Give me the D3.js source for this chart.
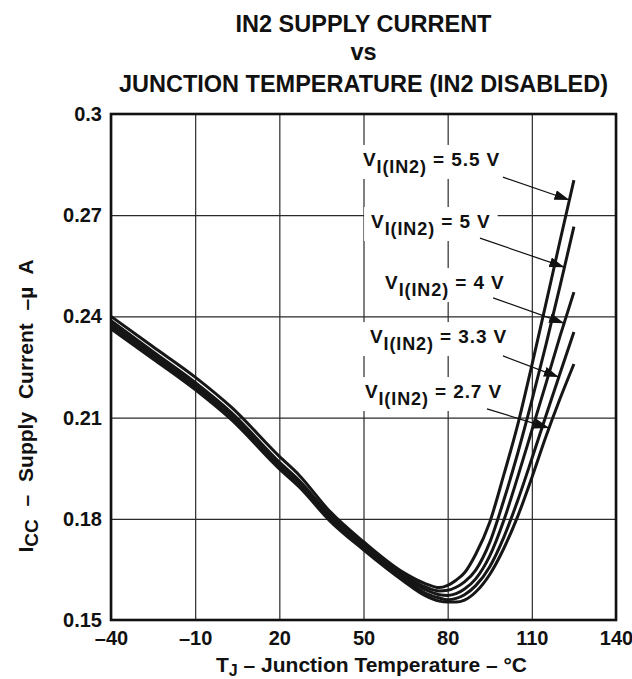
<!DOCTYPE html>
<html>
<head>
<meta charset="utf-8">
<script src="https://cdn.jsdelivr.net/npm/d3@7"></script>
<style>
  html, body { margin: 0; padding: 0; background: #fff; }
  svg { display: block; font-family: "Liberation Sans", Arial, Helvetica, sans-serif; font-weight: bold; }
  .axis .domain { display: none; }
  .axis line { stroke: #2a2a2a; stroke-width: 1.2; }
  .axis text { fill: #111; font-size: 20px; }
</style>
</head>
<body>
<svg id="chart" width="632" height="679"></svg>
<script>
// junction temperature samples, °C
const temps = [-40, -25, -10, 3, 20, 27, 38, 50, 64, 72, 77, 80, 83, 86, 90, 95, 100, 105, 110, 115, 120, 125];

// supply current, µA, one array per input voltage
const icc55 = [0.2400, 0.2310, 0.2220, 0.2130, 0.1985, 0.1930, 0.1822, 0.1732, 0.1642, 0.1608, 0.1596, 0.1603, 0.1618, 0.1640, 0.1695, 0.1790, 0.1930, 0.2080, 0.2255, 0.2437, 0.2622, 0.2804];
const icc5  = [0.2387, 0.2295, 0.2204, 0.2114, 0.1968, 0.1914, 0.1812, 0.1726, 0.1636, 0.1598, 0.1586, 0.1588, 0.1597, 0.1613, 0.1648, 0.1730, 0.1855, 0.1995, 0.2150, 0.2315, 0.2488, 0.2666];
const icc4  = [0.2379, 0.2288, 0.2197, 0.2107, 0.1961, 0.1907, 0.1806, 0.1720, 0.1630, 0.1590, 0.1575, 0.1573, 0.1578, 0.1592, 0.1622, 0.1690, 0.1795, 0.1925, 0.2062, 0.2200, 0.2340, 0.2472];
const icc33 = [0.2371, 0.2281, 0.2190, 0.2100, 0.1954, 0.1901, 0.1800, 0.1714, 0.1624, 0.1580, 0.1565, 0.1560, 0.1564, 0.1575, 0.1602, 0.1658, 0.1745, 0.1855, 0.1978, 0.2105, 0.2230, 0.2354];
const icc27 = [0.2363, 0.2274, 0.2183, 0.2093, 0.1948, 0.1895, 0.1794, 0.1708, 0.1617, 0.1572, 0.1556, 0.1553, 0.1553, 0.1559, 0.1583, 0.1635, 0.1712, 0.1808, 0.1922, 0.2043, 0.2155, 0.2259];

const voltages = ["5.5", "5", "4", "3.3", "2.7"];
const seriesValues = [icc55, icc5, icc4, icc33, icc27];

const xTicks = [-40, -10, 20, 50, 80, 110, 140];
const yTicks = [0.15, 0.18, 0.21, 0.24, 0.27, 0.3];

const titleLines = ["IN2 SUPPLY CURRENT", "vs", "JUNCTION TEMPERATURE (IN2 DISABLED)"];

// annotation anchors in data units (temp, current)
const labelAt   = [[49.8, 0.2846], [52.7, 0.2662], [57.7, 0.2481], [52.3, 0.2321], [50.5, 0.2158]];
const arrowFrom = [[99.7, 0.2813], [91.5, 0.2632], [96.2, 0.2455], [99.7, 0.2283], [94.0, 0.2126]];
const arrowTo   = [[123.4, 0.2745], [121.6, 0.2546], [121.5, 0.2380], [119.6, 0.2220], [116.2, 0.2069]];

const margin = { top: 114, right: 16, bottom: 59, left: 111 };
const width = 632 - margin.left - margin.right;
const height = 679 - margin.top - margin.bottom;

const svg = d3.select("#chart");

svg.append("defs").append("marker")
  .attr("id", "head")
  .attr("markerUnits", "userSpaceOnUse")
  .attr("markerWidth", 16)
  .attr("markerHeight", 11)
  .attr("refX", 15)
  .attr("refY", 5)
  .attr("orient", "auto")
  .append("path")
  .attr("d", "M0,0L15,5L0,10Z")
  .attr("fill", "#111");

// title
svg.append("g")
  .selectAll("text")
  .data(titleLines)
  .join("text")
  .attr("x", margin.left + width / 2)
  .attr("y", (d, i) => [32, 60, 92][i])
  .attr("text-anchor", "middle")
  .attr("font-size", 23.5)
  .attr("fill", "#111")
  .text((d) => d);

const g = svg.append("g").attr("transform", `translate(${margin.left},${margin.top})`);

const x = d3.scaleLinear().domain([-40, 140]).range([0, width]);
const y = d3.scaleLinear().domain([0.15, 0.3]).range([height, 0]);

g.append("g")
  .attr("class", "axis")
  .attr("transform", `translate(0,${height})`)
  .call(
    d3.axisBottom(x)
      .tickValues(xTicks)
      .tickSize(-height)
      .tickPadding(11)
      .tickFormat((d) => (d < 0 ? "–" + Math.abs(d) : d))
  );

g.append("g")
  .attr("class", "axis")
  .call(
    d3.axisLeft(y)
      .tickValues(yTicks)
      .tickSize(-width)
      .tickPadding(9)
      .tickFormat((d) => String(d))
  );

const boxLayer = g.append("g");
const curveLayer = g.append("g");

// frame
g.append("rect")
  .attr("width", width)
  .attr("height", height)
  .attr("fill", "none")
  .attr("stroke", "#111")
  .attr("stroke-width", 2.6);

const line = d3.line()
  .x((d) => x(d[0]))
  .y((d) => y(d[1]))
  .curve(d3.curveMonotoneX);

curveLayer.selectAll("path")
  .data(seriesValues)
  .join("path")
  .attr("d", (vals) => line(temps.map((t, i) => [t, vals[i]])))
  .attr("fill", "none")
  .attr("stroke", "#161616")
  .attr("stroke-width", 3)
  .attr("stroke-linejoin", "round");

// labels with arrows
const labelLayer = g.append("g");
voltages.forEach((v, i) => {
  const t = labelLayer.append("text")
    .attr("x", x(labelAt[i][0]))
    .attr("y", y(labelAt[i][1]))
    .attr("font-size", 19)
    .attr("letter-spacing", 0.9)
    .attr("fill", "#111");
  t.append("tspan").text("V");
  t.append("tspan").attr("dy", 7).attr("font-size", 18).text("I(IN2)");
  t.append("tspan").attr("dy", -7).text(` = ${v} V`);

  const bb = t.node().getBBox();
  boxLayer.append("rect")
    .attr("x", bb.x - 7)
    .attr("y", bb.y - 4)
    .attr("width", bb.width + 14)
    .attr("height", bb.height + 6)
    .attr("fill", "#fff");

  labelLayer.append("line")
    .attr("x1", x(arrowFrom[i][0]))
    .attr("y1", y(arrowFrom[i][1]))
    .attr("x2", x(arrowTo[i][0]))
    .attr("y2", y(arrowTo[i][1]))
    .attr("stroke", "#111")
    .attr("stroke-width", 1.2)
    .attr("marker-end", "url(#head)");
});

// axis titles
const xt = svg.append("text")
  .attr("x", margin.left + width / 2 + 8)
  .attr("y", 672)
  .attr("text-anchor", "middle")
  .attr("font-size", 21)
  .attr("fill", "#111");
xt.append("tspan").text("T");
xt.append("tspan").attr("dy", 4).attr("font-size", 16).text("J");
xt.append("tspan").attr("dy", -4).text(" – Junction Temperature – °C");

const yt = svg.append("text")
  .attr("transform", `translate(33,406) rotate(-90)`)
  .attr("text-anchor", "middle")
  .attr("font-size", 21)
  .attr("word-spacing", 7)
  .attr("fill", "#111");
yt.append("tspan").text("I");
yt.append("tspan").attr("dy", 5).attr("font-size", 19).text("CC");
yt.append("tspan").attr("dy", -5).text(" – Supply Current –µ A");
</script>
</body>
</html>
